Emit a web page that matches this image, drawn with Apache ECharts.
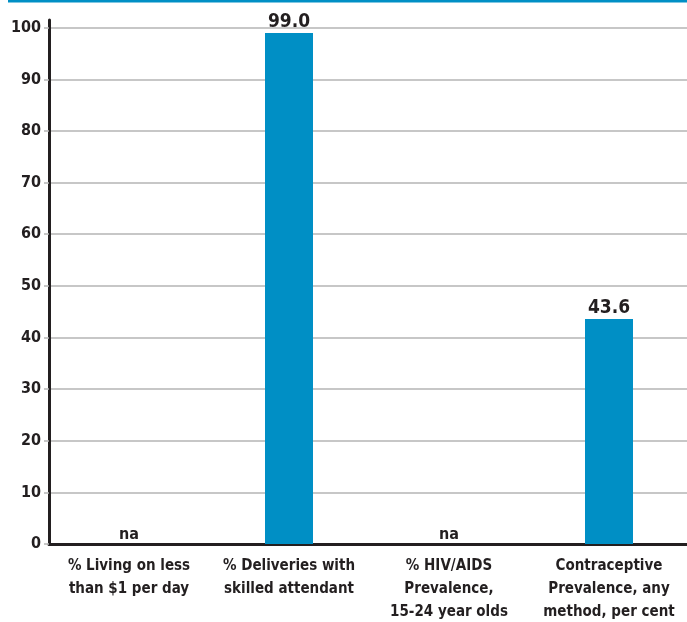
<!DOCTYPE html>
<html><head><meta charset="utf-8">
<script src="https://cdn.jsdelivr.net/npm/echarts@6/dist/echarts.min.js"></script>
<style>html,body{margin:0;padding:0;background:#fff}#c{width:687px;height:622px}</style>
</head><body><div id="c"></div>
<script>
var categories = ['% Living on less\nthan $1 per day', '% Deliveries with\nskilled attendant', '% HIV/AIDS\nPrevalence,\n15-24 year olds', 'Contraceptive\nPrevalence, any\nmethod, per cent'];
var values = [null, 99.0, null, 43.6];
var yTicks = [0, 10, 20, 30, 40, 50, 60, 70, 80, 90, 100];
var FONT = '"DejaVu Sans Condensed", "Liberation Sans Narrow", sans-serif';
var TXT = '#231f20';
var GRID = '#b5b5b5';
var chart = echarts.init(document.getElementById('c'));
chart.setOption({
  animation: false,
  graphic: [{type: 'rect', shape: {x: 8, y: 0, width: 679, height: 2.5}, style: {fill: '#008fc5'}}],
  grid: {left: 49, right: -2, top: 20, bottom: 78, containLabel: false, outerBoundsMode: 'none'},
  xAxis: {
    type: 'category', data: categories,
    axisLine: {lineStyle: {color: TXT, width: 3}},
    axisTick: {show: false},
    axisLabel: {color: TXT, fontFamily: FONT, fontWeight: 'bold', fontSize: 15, lineHeight: 23, margin: 11, interval: 0}
  },
  yAxis: {
    type: 'value', min: 0, max: 101.5,
    axisLine: {show: true, lineStyle: {color: TXT, width: 3}},
    axisTick: {show: true, length: 5, customValues: yTicks, lineStyle: {color: GRID, width: 1.5}},
    axisLabel: {customValues: yTicks, color: TXT, fontFamily: FONT, fontWeight: 'bold', fontSize: 16, margin: 8},
    splitLine: {show: true, lineStyle: {color: [GRID,GRID,GRID,GRID,GRID,GRID,GRID,GRID,GRID,GRID,GRID,'rgba(0,0,0,0)'], width: 1.5}}
  },
  series: [{
    type: 'bar', barWidth: 48,
    data: values.map(function (v) { return v === null ? {value: 0, label: {formatter: 'na', fontSize: 16, distance: 1}} : v; }),
    itemStyle: {color: '#008fc5'},
    label: {show: true, position: 'top', distance: 1, color: TXT, fontFamily: FONT, fontWeight: 'bold', fontSize: 19,
      formatter: function (p) { return p.value.toFixed(1); }}
  }]
});
</script></body></html>
